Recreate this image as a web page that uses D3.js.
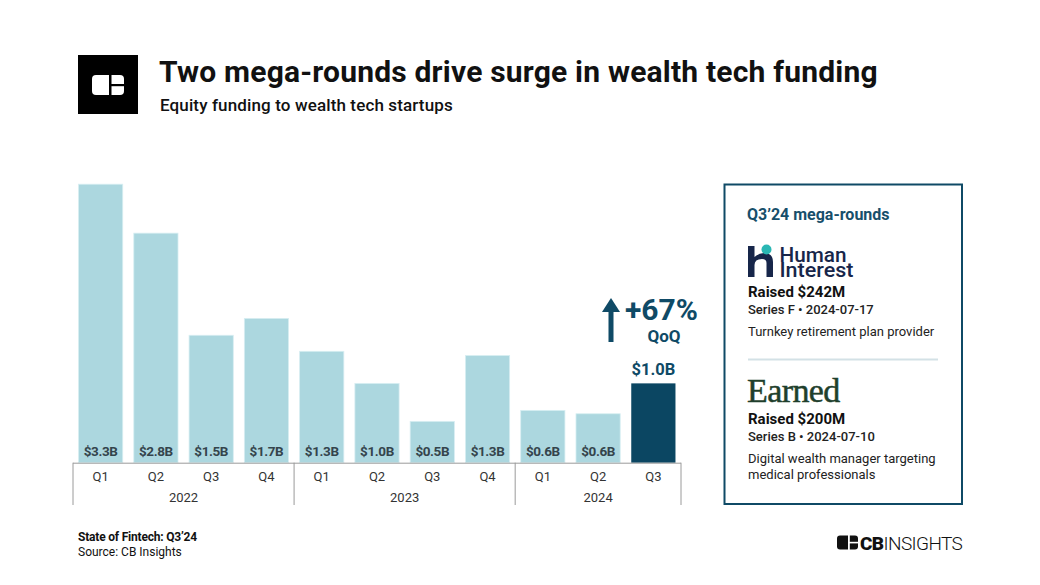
<!DOCTYPE html>
<html>
<head>
<meta charset="utf-8">
<script src="https://cdn.jsdelivr.net/npm/d3@7"></script>
<style>
  html, body { margin: 0; padding: 0; background: #fff; }
  svg { display: block; font-family: Roboto, "Noto Sans", sans-serif; }
</style>
</head>
<body>
<svg id="chart" width="1040" height="585"></svg>
<script>
// ---- data ----
const quarters = ["Q1","Q2","Q3","Q4","Q1","Q2","Q3","Q4","Q1","Q2","Q3"];
const years = ["2022","2023","2024"];
const yearOfBar = ["2022","2022","2022","2022","2023","2023","2023","2023","2024","2024","2024"];
const funding = [3.30, 2.72, 1.51, 1.71, 1.32, 0.94, 0.49, 1.27, 0.62, 0.58, 0.94]; // $B
const fundingLabels = ["$3.3B","$2.8B","$1.5B","$1.7B","$1.3B","$1.0B","$0.5B","$1.3B","$0.6B","$0.6B","$1.0B"];
const title = "Two mega-rounds drive surge in wealth tech funding";
const subtitle = "Equity funding to wealth tech startups";
const growthLabel = "+67%";
const growthSub = "QoQ";

const svg = d3.select("#chart");
const ids = funding.map((d, i) => i);

const x = d3.scaleBand().domain(ids).range([73, 681]).paddingInner(0.2).paddingOuter(0.1);
const y = d3.scaleLinear().domain([0, 3.3]).range([462.7, 184.2]);

const LIGHT = "#acd7df", DARK = "#0b4662", ACCENT = "#0f4a66";

// ---- header ----
svg.append("rect").attr("x", 78).attr("y", 55).attr("width", 60).attr("height", 59).attr("fill", "#000");
const logo = svg.append("g");
logo.append("rect").attr("x", 92).attr("y", 75).attr("width", 32).attr("height", 20).attr("rx", 4).attr("fill", "#fff");
logo.append("rect").attr("x", 109).attr("y", 73).attr("width", 2.5).attr("height", 24).attr("fill", "#000");
logo.append("rect").attr("x", 111).attr("y", 84).attr("width", 14).attr("height", 2.2).attr("fill", "#000");

svg.append("text").attr("x", 159).attr("y", 82).attr("font-size", 30).attr("font-weight", 700)
  .attr("letter-spacing", 0.2).attr("fill", "#111").text(title);
svg.append("text").attr("x", 160).attr("y", 111).attr("font-size", 17).attr("font-weight", 500)
  .attr("letter-spacing", 0.13).attr("fill", "#111").text(subtitle);

// ---- bars ----
svg.append("g").selectAll("rect").data(ids).join("rect")
  .attr("x", i => x(i)).attr("width", x.bandwidth())
  .attr("y", i => y(funding[i])).attr("height", i => y(0) - y(funding[i]))
  .attr("fill", i => i === ids.length - 1 ? DARK : LIGHT)
  .attr("stroke", i => i === ids.length - 1 ? "none" : "#d8eef2").attr("stroke-width", 0.8);

// value labels inside light bars
svg.append("g").selectAll("text").data(ids.slice(0, -1)).join("text")
  .attr("x", i => x(i) + x.bandwidth() / 2).attr("y", 456)
  .attr("text-anchor", "middle").attr("font-size", 13.5).attr("font-weight", 700)
  .attr("letter-spacing", -0.4).attr("fill", "#34444c")
  .text(i => fundingLabels[i]);

// label above highlighted bar
const last = ids.length - 1;
svg.append("text").attr("x", x(last) + x.bandwidth() / 2).attr("y", 375)
  .attr("text-anchor", "middle").attr("font-size", 16.5).attr("font-weight", 700)
  .attr("fill", ACCENT).text(fundingLabels[last]);

// growth annotation
const ax = 611;
svg.append("rect").attr("x", ax - 2.5).attr("y", 310).attr("width", 5).attr("height", 32).attr("fill", ACCENT);
svg.append("path").attr("d", `M${ax - 9},312 L${ax},298 L${ax + 9},312 Z`).attr("fill", ACCENT);
svg.append("text").attr("x", 625).attr("y", 319.5).attr("font-size", 30).attr("font-weight", 700)
  .attr("fill", ACCENT).text(growthLabel);
svg.append("text").attr("x", 664).attr("y", 342).attr("text-anchor", "middle").attr("font-size", 17).attr("font-weight", 700)
  .attr("fill", ACCENT).text(growthSub);

// ---- axis ----
const axisG = svg.append("g").attr("transform", `translate(0,${y(0)})`);
axisG.call(d3.axisBottom(x).tickSize(0).tickFormat(i => quarters[i]));
axisG.select(".domain").attr("stroke", "#9a9a9a").attr("stroke-width", 1).attr("d", "M73,0.5H681");
axisG.selectAll(".tick text").attr("font-size", 13).attr("fill", "#333").attr("dy", 0).attr("y", 18.5)
  .attr("font-family", "Roboto, sans-serif");

// year groups
const yearStart = years.map(yr => yearOfBar.indexOf(yr));
const yearEnd = years.map(yr => yearOfBar.lastIndexOf(yr));
const step = x.step();
const bound = i => x(i) - x.paddingInner() * step / 2; // left boundary of band i
const dividers = yearStart.map(s => bound(s)).concat([bound(last) + step]);
svg.append("g").selectAll("line").data(dividers).join("line")
  .attr("x1", d => d).attr("x2", d => d).attr("y1", y(0)).attr("y2", 505)
  .attr("stroke", "#9a9a9a").attr("stroke-width", 1);
svg.append("g").selectAll("text").data(years).join("text")
  .attr("x", (yr, k) => (bound(yearStart[k]) + bound(yearEnd[k]) + step) / 2)
  .attr("y", 502).attr("text-anchor", "middle").attr("font-size", 13).attr("fill", "#333")
  .text(d => d);

// ---- right panel ----
svg.append("rect").attr("x", 724.5).attr("y", 184.5).attr("width", 237.5).attr("height", 319.5)
  .attr("fill", "#fff").attr("stroke", ACCENT).attr("stroke-width", 2);
svg.append("text").attr("x", 747).attr("y", 220).attr("font-size", 16).attr("font-weight", 700)
  .attr("fill", "#174f6b").text("Q3’24 mega-rounds");

// Human Interest logo
const hi = svg.append("g");
hi.append("path").attr("d", "M748,246 H754.5 V257 Q759,253 764,253 Q773,253 773,262 V277 H766.5 V263 Q766.5,259 762,259 Q754.5,259 754.5,265 V277 H748 Z")
  .attr("fill", "#17264a");
hi.append("circle").attr("cx", 766.5).attr("cy", 249.5).attr("r", 5).attr("fill", "#2ab7b4");
hi.append("text").attr("x", 779.5).attr("y", 261.5).attr("font-size", 20.5).attr("font-weight", 500)
  .attr("textLength", 67).attr("lengthAdjust", "spacingAndGlyphs").attr("fill", "#17264a").text("Human");
hi.append("text").attr("x", 779.5).attr("y", 276.5).attr("font-size", 20.5).attr("font-weight", 500)
  .attr("textLength", 74).attr("lengthAdjust", "spacingAndGlyphs").attr("fill", "#17264a").text("Interest");

const panelText = [
  {t: "Raised $242M", y: 297, s: 15, w: 700, c: "#111"},
  {t: "Series F • 2024-07-17", y: 314, s: 13, w: 500, c: "#222"},
  {t: "Turnkey retirement plan provider", y: 336, s: 13, w: 400, c: "#222"},
  {t: "Raised $200M", y: 423.5, s: 15, w: 700, c: "#111"},
  {t: "Series B • 2024-07-10", y: 441, s: 13, w: 500, c: "#222"},
  {t: "Digital wealth manager targeting", y: 463, s: 13, w: 400, c: "#222"},
  {t: "medical professionals", y: 478.5, s: 13, w: 400, c: "#222"}
];
svg.append("g").selectAll("text").data(panelText).join("text")
  .attr("x", 748).attr("y", d => d.y).attr("font-size", d => d.s).attr("font-weight", d => d.w)
  .attr("fill", d => d.c).text(d => d.t);

svg.append("line").attr("x1", 748).attr("x2", 938).attr("y1", 359.5).attr("y2", 359.5)
  .attr("stroke", "#d3e1e6").attr("stroke-width", 2);

svg.append("text").attr("x", 747).attr("y", 401.5).attr("font-size", 34)
  .attr("font-family", "'Liberation Serif', 'DejaVu Serif', serif").attr("letter-spacing", -0.6)
  .attr("fill", "#1f3f2c").attr("stroke", "#1f3f2c").attr("stroke-width", 0.5).text("Earned");

// ---- footer ----
svg.append("text").attr("x", 78).attr("y", 541).attr("font-size", 12).attr("font-weight", 700)
  .attr("fill", "#111").attr("letter-spacing", -0.2).text("State of Fintech: Q3’24");
svg.append("text").attr("x", 78).attr("y", 555.5).attr("font-size", 12).attr("font-weight", 400)
  .attr("fill", "#111").text("Source: CB Insights");

// CB Insights logo
const cb = svg.append("g");
cb.append("rect").attr("x", 837).attr("y", 535.5).attr("width", 21).attr("height", 14).attr("rx", 3).attr("fill", "#111");
cb.append("rect").attr("x", 848).attr("y", 534).attr("width", 1.8).attr("height", 17).attr("fill", "#fff");
cb.append("rect").attr("x", 849).attr("y", 541.8).attr("width", 10).attr("height", 1.6).attr("fill", "#fff");
const cbt = cb.append("text").attr("x", 860).attr("y", 549.5).attr("font-size", 19).attr("fill", "#111")
  .attr("letter-spacing", -0.6);
cbt.append("tspan").attr("font-weight", 900).text("CB");
cbt.append("tspan").attr("font-weight", 300).text("INSIGHTS");
</script>
</body>
</html>
